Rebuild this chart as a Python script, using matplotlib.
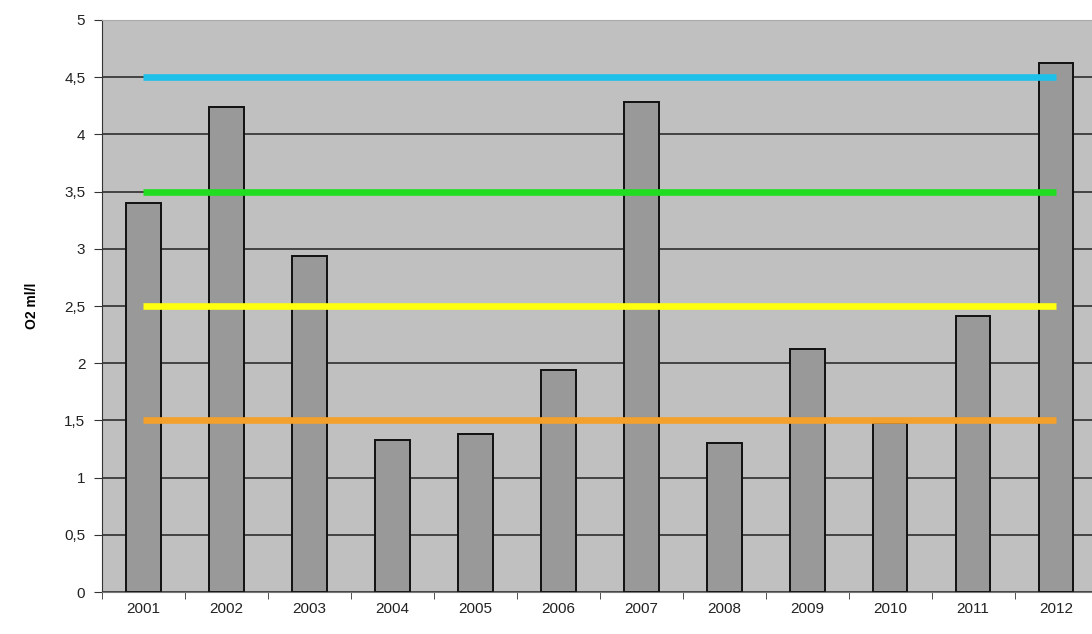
import matplotlib.pyplot as plt
import numpy as np

plt.rcParams['font.family'] = ['Liberation Sans', 'DejaVu Sans']

years = ['2001', '2002', '2003', '2004', '2005', '2006',
         '2007', '2008', '2009', '2010', '2011', '2012']
o2 = [3.4, 4.24, 2.94, 1.33, 1.38, 1.94, 4.28, 1.30, 2.12, 1.48, 2.41, 4.62]

# horizontal reference levels
levels = [4.5, 3.5, 2.5, 1.5]
level_colors = ['#1ec0ea', '#22dc22', '#ffff10', '#f4a02c']

fig = plt.figure(figsize=(10.92, 6.34), dpi=100)
ax = fig.add_axes([0.0934, 0.0662, 0.9116, 0.9023])
ax.set_facecolor('#c0c0c0')

x = np.arange(len(years))
ax.bar(x, o2, width=0.42, color='#999999', edgecolor='#111111',
       linewidth=1.4, zorder=2)

for lv, c in zip(levels, level_colors):
    ax.plot([x[0], x[-1]], [lv, lv], color=c, linewidth=4.8,
            solid_capstyle='butt', zorder=3)

ax.set_xlim(-0.5, len(years) - 0.5)
ax.set_ylim(0, 5)
ax.set_yticks(np.arange(0, 5.01, 0.5))
ax.set_yticklabels(['0', '0,5', '1', '1,5', '2', '2,5', '3', '3,5',
                    '4', '4,5', '5'])
ax.yaxis.grid(True, color='#222222', linewidth=1.1, zorder=1)
ax.set_axisbelow(True)

ax.set_xticks(x)
ax.set_xticklabels(years)
ax.set_xticks(np.arange(-0.5, len(years), 1.0), minor=True)
ax.tick_params(axis='x', which='major', length=0, pad=7, labelsize=11,
               colors='#222222')
ax.tick_params(axis='x', which='minor', length=5, color='#333333')
ax.tick_params(axis='y', length=6, color='#333333', labelsize=11,
               labelcolor='#222222', pad=6)

ax.set_ylabel('O2 ml/l', fontsize=10, fontweight='bold', labelpad=18)

ax.spines['right'].set_visible(False)
ax.spines['top'].set_color('#aaaaaa')
ax.spines['left'].set_color('#333333')
ax.spines['bottom'].set_color('#777777')

fig.savefig('out.png', dpi=100)
